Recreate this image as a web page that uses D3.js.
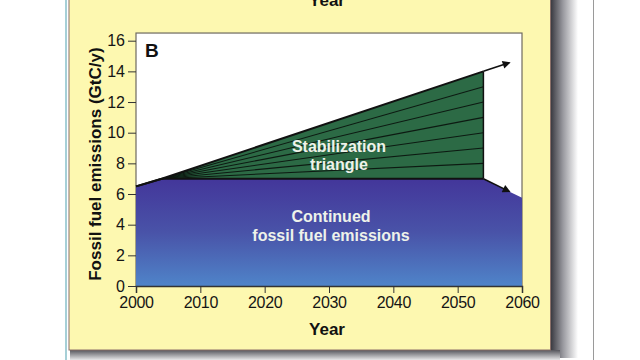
<!DOCTYPE html>
<html>
<head>
<meta charset="utf-8">
<script src="https://cdn.jsdelivr.net/npm/d3@7"></script>
<style>
  body { margin: 0; background: #fff; }
  svg { display: block; font-family: "Liberation Sans", Arial, sans-serif; }
  .tick text { font-size: 16px; fill: #151515; }
  .tick line { stroke: #333; }
  .domain { stroke: #333; }
  .title { font-weight: bold; font-size: 17px; fill: #111; }
  .inner { font-weight: bold; font-size: 16px; fill: #eef2ea; text-anchor: middle; }
</style>
</head>
<body>
<svg id="chart" width="640" height="360"></svg>
<script>
  // values
  const xTicks = [2000, 2010, 2020, 2030, 2040, 2050, 2060];
  const yTicks = [0, 2, 4, 6, 8, 10, 12, 14, 16];
  // continued fossil fuel emissions (top of blue area)
  const flatPath = [[2000, 6.5], [2004, 7], [2054, 7], [2060, 5.75]];
  // business-as-usual path (top of triangle)
  const bauPath = [[2000, 6.5], [2004, 7], [2054, 14]];
  const apex = [2004, 7];
  const wedgeEnds = [8, 9, 10, 11, 12, 13];
  const bauArrow = [[2054, 14], [2058, 14.56]];
  const flatArrow = [[2054, 7], [2058, 6.17]];

  const svg = d3.select('#chart');
  const x = d3.scaleLinear([2000, 2060], [136, 522]);
  const y = d3.scaleLinear([0, 16], [286, 40.7]);

  const defs = svg.append('defs');
  const blue = defs.append('linearGradient').attr('id', 'blue')
    .attr('x1', 0).attr('y1', 0).attr('x2', 0).attr('y2', 1);
  blue.append('stop').attr('offset', '0%').attr('stop-color', '#43369a');
  blue.append('stop').attr('offset', '50%').attr('stop-color', '#4953a8');
  blue.append('stop').attr('offset', '100%').attr('stop-color', '#4f84c9');

  const shR = defs.append('linearGradient').attr('id', 'shR');
  shR.append('stop').attr('offset', '0%').attr('stop-color', '#3b3b42');
  shR.append('stop').attr('offset', '45%').attr('stop-color', '#9a9aa0');
  shR.append('stop').attr('offset', '100%').attr('stop-color', '#ffffff');
  const shB = defs.append('linearGradient').attr('id', 'shB')
    .attr('x1', 0).attr('y1', 0).attr('x2', 0).attr('y2', 1);
  shB.append('stop').attr('offset', '0%').attr('stop-color', '#55555c');
  shB.append('stop').attr('offset', '100%').attr('stop-color', '#e6e6e8');

  defs.append('marker').attr('id', 'arrow')
    .attr('viewBox', '0 0 10 10').attr('refX', 8).attr('refY', 5)
    .attr('markerWidth', 10).attr('markerHeight', 8)
    .attr('markerUnits', 'userSpaceOnUse')
    .attr('orient', 'auto')
    .append('path').attr('d', 'M0,0L10,5L0,10z').attr('fill', '#111');

  // page frame
  svg.append('line').attr('x1', 66).attr('x2', 66).attr('y1', 0).attr('y2', 360)
    .attr('stroke', '#6bb0bd').attr('stroke-width', 1.2);
  svg.append('line').attr('x1', 593.5).attr('x2', 593.5).attr('y1', 0).attr('y2', 360)
    .attr('stroke', '#9a9a9a').attr('stroke-width', 1);
  svg.append('rect').attr('x', 551).attr('y', 0).attr('width', 27).attr('height', 358)
    .attr('fill', 'url(#shR)');
  svg.append('rect').attr('x', 70).attr('y', 350).attr('width', 490).attr('height', 10)
    .attr('fill', 'url(#shB)');
  svg.append('rect').attr('x', 69).attr('y', -5).attr('width', 481.5).attr('height', 355)
    .attr('fill', '#fdf8b0').attr('stroke', '#8a6f68').attr('stroke-width', 1);

  // cut-off title of the panel above
  svg.append('text').attr('class', 'title').attr('x', 327).attr('y', 6)
    .attr('text-anchor', 'middle').text('Year');

  // plot box
  svg.append('rect').attr('x', x(2000)).attr('y', y(16.5))
    .attr('width', x(2060) - x(2000)).attr('height', y(0) - y(16.5))
    .attr('fill', '#fff').attr('stroke', '#6e6a60').attr('stroke-width', 1.2);

  const line = d3.line().x(d => x(d[0])).y(d => y(d[1]));

  // blue area
  svg.append('path').datum(flatPath)
    .attr('d', d3.area().x(d => x(d[0])).y0(y(0)).y1(d => y(d[1])))
    .attr('fill', 'url(#blue)');

  // stabilization triangle
  const tri = [apex, bauPath[2], [2054, 7]];
  svg.append('path').attr('d', line(tri) + 'Z').attr('fill', '#2c6a45');
  wedgeEnds.forEach(v => {
    svg.append('path').datum([apex, [2054, v]]).attr('d', line)
      .attr('stroke', '#0d1a12').attr('stroke-width', 1.1).attr('fill', 'none');
  });
  svg.append('path').datum([[2054, 7], [2054, 14]]).attr('d', line)
    .attr('stroke', '#111').attr('stroke-width', 1.5);

  // boundary lines
  svg.append('path').datum(bauPath).attr('d', line)
    .attr('fill', 'none').attr('stroke', '#111').attr('stroke-width', 2);
  svg.append('path').datum(flatPath.slice(0, 3)).attr('d', line)
    .attr('fill', 'none').attr('stroke', '#111').attr('stroke-width', 2);
  [bauArrow, flatArrow].forEach(a => {
    svg.append('path').datum(a).attr('d', line)
      .attr('fill', 'none').attr('stroke', '#111').attr('stroke-width', 1.6)
      .attr('marker-end', 'url(#arrow)');
  });

  // axes
  svg.append('g').attr('transform', `translate(0,${y(0)})`)
    .call(d3.axisBottom(x).tickValues(xTicks).tickFormat(d3.format('d'))
      .tickSize(7).tickPadding(4))
    .call(g => g.select('.domain').attr('stroke-width', 1.5))
    .call(g => g.selectAll('text').attr('letter-spacing', '-0.3px'));
  svg.append('g').attr('transform', `translate(${x(2000)},0)`)
    .call(d3.axisLeft(y).tickValues(yTicks).tickSize(8).tickPadding(3))
    .call(g => g.select('.domain').remove());

  svg.append('text').attr('class', 'title').attr('x', 327).attr('y', 335)
    .attr('text-anchor', 'middle').text('Year');
  svg.append('text').attr('class', 'title')
    .attr('transform', `translate(101,${y(7.95)}) rotate(-90)`)
    .attr('text-anchor', 'middle').text('Fossil fuel emissions (GtC/y)');

  svg.append('text').attr('x', 145).attr('y', 57)
    .attr('font-weight', 'bold').attr('font-size', 19).attr('fill', '#111').text('B');

  svg.append('text').attr('class', 'inner').attr('x', 339).attr('y', 152).text('Stabilization');
  svg.append('text').attr('class', 'inner').attr('x', 339).attr('y', 170).text('triangle');
  svg.append('text').attr('class', 'inner').attr('x', 331).attr('y', 222).text('Continued');
  svg.append('text').attr('class', 'inner').attr('x', 331).attr('y', 241).text('fossil fuel emissions');
</script>
</body>
</html>
